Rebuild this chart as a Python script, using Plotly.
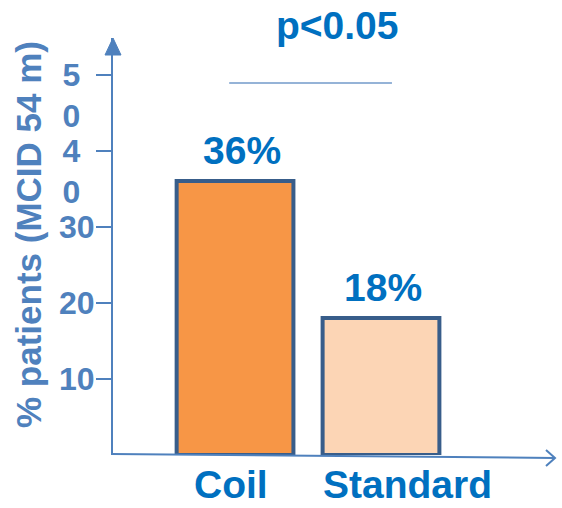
import plotly.graph_objects as go

# Data
categories = ["Coil", "Standard"]
percent_patients = [36, 18]
value_labels = ["36%", "18%"]
tick_values = [10, 20, 30, 40, 50]
tick_labels = ["10", "20", "30", "<br>4\u00a0\u2006<br>0\u00a0\u2006", "<br>5\u00a0\u2006<br>0\u00a0\u2006"]
p_label = "p&lt;0.05"
y_title = "% patients (MCID 54 m)"

# Styles
TEXT_BLUE = "#0070C0"
AXIS_BLUE = "#4F81BD"
BAR_EDGE = "#385D8A"
BAR_FILLS = ["#F79646", "#FCD5B5"]
FONT = "Liberation Sans, Arial, sans-serif"
BIG = dict(family=FONT, size=39, color=TEXT_BLUE, weight="bold")
label_xshift = [-4, 26]
value_xshift = [7, 2]

fig = go.Figure(
    go.Bar(
        x=categories,
        y=percent_patients,
        marker=dict(color=BAR_FILLS, line=dict(color=BAR_EDGE, width=4)),
        width=0.8,
        cliponaxis=False,
        hoverinfo="skip",
    )
)

fig.update_layout(
    width=562,
    height=508,
    margin=dict(l=113, r=7, t=38, b=53),
    paper_bgcolor="white",
    plot_bgcolor="white",
    showlegend=False,
    xaxis=dict(
        range=[-0.836, 2.192],
        showline=False,
        showticklabels=False,
        ticks="",
        showgrid=False,
        zeroline=False,
    ),
    yaxis=dict(
        range=[0, 54.8],
        tickvals=tick_values,
        ticktext=tick_labels,
        ticks="outside",
        ticklen=15,
        tickwidth=2,
        tickcolor=AXIS_BLUE,
        ticklabelstandoff=-5,
        tickfont=dict(family=FONT, size=32, color=AXIS_BLUE, weight="bold"),
        showline=True,
        linecolor=AXIS_BLUE,
        linewidth=2,
        showgrid=False,
        zeroline=False,
    ),
)

# Rotated y-axis title
fig.add_annotation(
    x=-0.19, y=0.5276, xref="paper", yref="paper", xanchor="center", yanchor="middle",
    text=y_title, textangle=-90, showarrow=False,
    font=dict(family=FONT, size=35, color=AXIS_BLUE, weight="bold"),
)

# Value labels above the bars
for cat, val, lab, dx in zip(categories, percent_patients, value_labels, value_xshift):
    fig.add_annotation(
        x=cat, y=val, xref="x", yref="y", yanchor="bottom", yshift=7, xshift=dx,
        text=lab, showarrow=False, font=BIG,
    )

# Category labels under the baseline
for cat, dx in zip(categories, label_xshift):
    fig.add_annotation(
        x=cat, y=0, xref="x", yref="paper", yanchor="top", yshift=-6, xshift=dx,
        text=cat, showarrow=False, font=BIG,
    )

# Significance label and bracket line
fig.add_annotation(
    x=0.509, y=1, xref="paper", yref="paper", yanchor="bottom", yshift=-11,
    text=p_label, showarrow=False, font=BIG,
)
fig.add_shape(type="line", xref="x", yref="y", x0=-0.04, x1=1.075, y0=48.9, y1=48.9,
              line=dict(color="#95B3D7", width=2))

# x axis line with open arrowhead
fig.add_shape(type="line", xref="paper", yref="paper", x0=-0.003, x1=1, y0=0.0024, y1=-0.0072,
              line=dict(color=AXIS_BLUE, width=2))
fig.add_shape(type="path", xref="paper", yref="paper", xsizemode="pixel", ysizemode="pixel",
              xanchor=1, yanchor=-0.0072, path="M -9,8 L 0,0 L -9,-8",
              line=dict(color=AXIS_BLUE, width=2), fillcolor="rgba(0,0,0,0)")

# y axis filled arrowhead
fig.add_shape(type="path", xref="paper", yref="paper", xsizemode="pixel", ysizemode="pixel",
              xanchor=0, yanchor=1, path="M -8,-17 L 8,-17 L 0,0 Z",
              line=dict(color=AXIS_BLUE, width=1), fillcolor=AXIS_BLUE)

fig.write_html("out.html")
